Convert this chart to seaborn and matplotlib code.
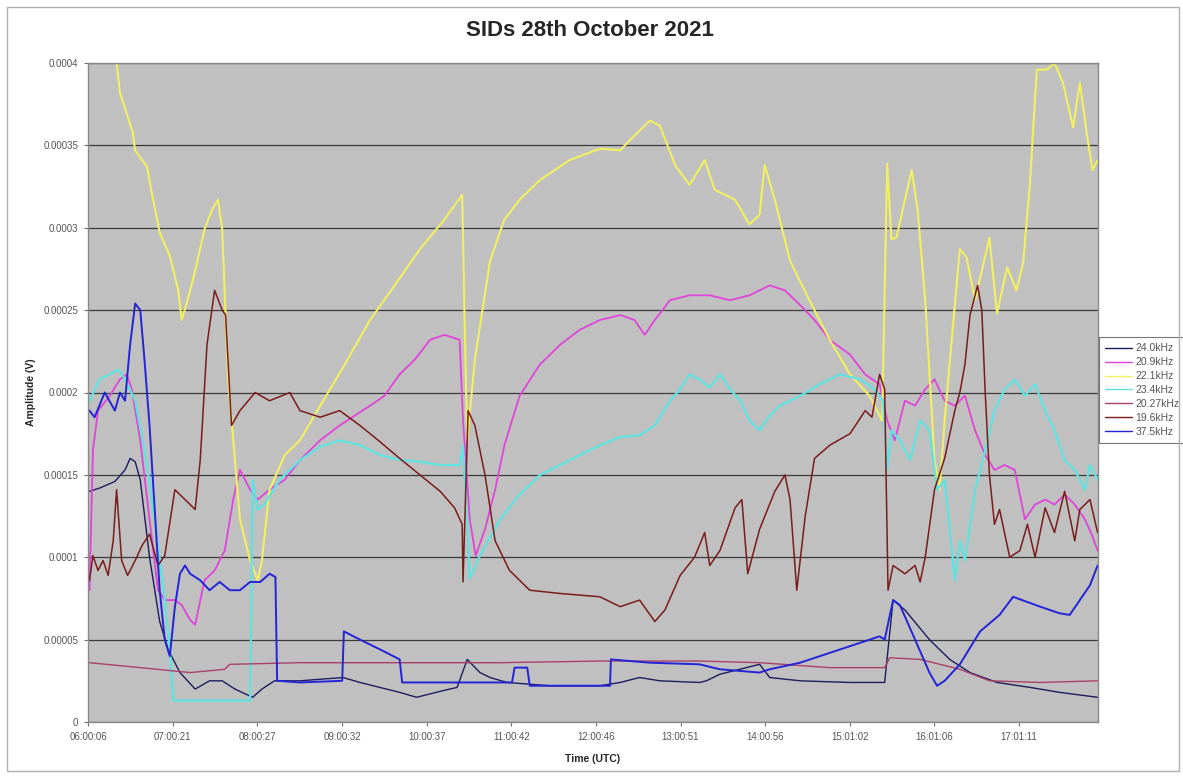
import matplotlib
import numpy as np
import pandas as pd
import seaborn as sns

matplotlib.use("Agg")
import matplotlib.pyplot as plt
from matplotlib.patches import Rectangle


# time in decimal hours (UTC), amplitude in volts (values written as 1e-5 V)
series_names = ["24.0kHz", "20.9kHz", "22.1kHz", "23.4kHz", "20.27kHz", "19.6kHz", "37.5kHz"]

t_240 = [6.02, 6.14, 6.32, 6.44, 6.50, 6.56, 6.62, 6.73, 6.85, 6.95, 7.09, 7.27, 7.44, 7.59,
         7.74, 7.95, 8.06, 8.21, 8.51, 9.02, 9.22, 9.69, 9.89, 10.20, 10.37, 10.49, 10.64,
         10.76, 10.96, 11.47, 12.06, 12.30, 12.53, 12.77, 13.24, 13.32, 13.48, 13.95, 14.07,
         14.43, 15.02, 15.43, 15.53, 15.67, 15.96, 16.20, 16.44, 16.76, 17.15, 17.50, 17.95]
v_240 = [14.0, 14.2, 14.6, 15.3, 16.0, 15.8, 14.7, 10.0, 6.1, 4.4, 3.0, 2.0, 2.5, 2.5,
         2.0, 1.5, 2.0, 2.5, 2.5, 2.7, 2.4, 1.8, 1.5, 1.9, 2.1, 3.8, 3.0,
         2.7, 2.4, 2.2, 2.2, 2.4, 2.7, 2.5, 2.4, 2.5, 2.9, 3.5, 2.7,
         2.5, 2.4, 2.4, 7.4, 6.8, 5.0, 3.8, 3.0, 2.4, 2.1, 1.8, 1.5]

t_209 = [6.02, 6.06, 6.12, 6.26, 6.38, 6.46, 6.52, 6.62, 6.73, 6.83, 6.91, 7.03, 7.11, 7.21,
         7.27, 7.38, 7.50, 7.62, 7.72, 7.80, 7.92, 8.01, 8.15, 8.33, 8.51, 8.75, 8.98, 9.16,
         9.34, 9.51, 9.69, 9.87, 10.05, 10.22, 10.40, 10.44, 10.52, 10.59, 10.70, 10.82,
         10.93, 11.11, 11.35, 11.59, 11.82, 12.06, 12.30, 12.47, 12.59, 12.71, 12.89, 13.12,
         13.36, 13.60, 13.83, 14.07, 14.25, 14.43, 14.60, 14.78, 15.02, 15.20, 15.37, 15.46,
         15.55, 15.67, 15.79, 15.91, 16.02, 16.14, 16.26, 16.38, 16.50, 16.62, 16.73, 16.85,
         16.97, 17.09, 17.21, 17.33, 17.44, 17.56, 17.68, 17.80, 17.88, 17.95]
v_209 = [8.0, 16.5, 18.9, 19.8, 20.8, 21.1, 20.2, 17.1, 12.3, 8.0, 7.4, 7.4, 7.1, 6.2,
         5.9, 8.6, 9.2, 10.4, 13.5, 15.3, 14.1, 13.5, 14.1, 14.7, 15.9, 17.1, 18.0, 18.6,
         19.2, 19.8, 21.1, 22.0, 23.2, 23.5, 23.2, 18.3, 12.3, 10.1, 11.7, 14.1,
         16.8, 19.8, 21.7, 22.9, 23.8, 24.4, 24.7, 24.4, 23.5, 24.4, 25.6, 25.9,
         25.9, 25.6, 25.9, 26.5, 26.2, 25.3, 24.4, 23.2, 22.3, 21.1, 20.5, 18.3,
         17.1, 19.5, 19.2, 20.2, 20.8, 19.5, 19.2, 19.8, 17.7, 16.2, 15.3, 15.6,
         15.3, 12.3, 13.2, 13.5, 13.2, 13.8, 13.2, 12.3, 11.4, 10.4]

t_221 = [6.02, 6.20, 6.34, 6.38, 6.53, 6.56, 6.70, 6.75, 6.85, 6.97, 7.07, 7.11, 7.18, 7.27,
         7.38, 7.47, 7.54, 7.59, 7.66, 7.80, 7.92, 8.01, 8.06, 8.15, 8.33, 8.51, 8.75, 9.04,
         9.34, 9.63, 9.93, 10.22, 10.43, 10.46, 10.49, 10.58, 10.76, 10.93, 11.11, 11.35,
         11.70, 12.06, 12.30, 12.41, 12.65, 12.77, 12.95, 13.12, 13.30, 13.42, 13.66, 13.83,
         13.95, 14.01, 14.13, 14.31, 14.54, 14.78, 15.02, 15.25, 15.40, 15.46, 15.51, 15.57,
         15.67, 15.75, 15.82, 15.91, 16.02, 16.08, 16.14, 16.26, 16.32, 16.40, 16.50, 16.67,
         16.76, 16.88, 16.99, 17.07, 17.15, 17.23, 17.35, 17.44, 17.54, 17.66, 17.74, 17.82,
         17.89, 17.95]
v_221 = [41.0, 40.5, 40.0, 38.2, 35.8, 34.7, 33.7, 32.3, 29.7, 28.3, 26.2, 24.4, 25.6, 27.4,
         29.9, 31.1, 31.7, 29.9, 20.8, 12.3, 9.8, 8.6, 9.8, 14.1, 16.2, 17.1, 19.2, 21.7,
         24.4, 26.5, 28.7, 30.5, 32.0, 24.0, 17.1, 22.0, 28.0, 30.5, 31.7, 32.9,
         34.1, 34.8, 34.7, 35.3, 36.5, 36.2, 33.8, 32.6, 34.1, 32.3, 31.7, 30.2,
         30.8, 33.8, 31.7, 28.0, 25.6, 23.2, 21.1, 19.8, 18.3, 33.9, 29.3, 29.4,
         31.7, 33.5, 31.1, 25.6, 15.9, 14.1, 18.3, 25.3, 28.7, 28.2, 25.6, 29.4,
         24.8, 27.6, 26.2, 27.9, 32.7, 39.6, 39.6, 40.0, 38.8, 36.1, 38.8, 35.8,
         33.5, 34.1]

t_234 = [6.02, 6.14, 6.26, 6.36, 6.44, 6.56, 6.67, 6.79, 6.91, 6.97, 7.01, 7.09, 7.92, 7.95,
         8.01, 8.09, 8.27, 8.51, 8.75, 8.98, 9.22, 9.46, 9.69, 9.93, 10.17, 10.40, 10.44,
         10.52, 10.64, 10.88, 11.11, 11.35, 11.59, 11.82, 12.06, 12.30, 12.53, 12.71, 12.89,
         13.01, 13.12, 13.24, 13.36, 13.48, 13.60, 13.72, 13.83, 13.95, 14.07, 14.19, 14.43,
         14.66, 14.90, 15.14, 15.31, 15.41, 15.46, 15.51, 15.61, 15.73, 15.85, 15.96, 16.05,
         16.14, 16.20, 16.26, 16.32, 16.38, 16.50, 16.62, 16.73, 16.85, 16.97, 17.09, 17.21,
         17.33, 17.44, 17.56, 17.68, 17.80, 17.86, 17.95]
v_234 = [19.5, 20.8, 21.1, 21.4, 20.8, 19.5, 16.5, 12.3, 7.4, 4.4, 1.3, 1.3, 1.3, 14.7,
         12.9, 13.2, 14.7, 15.9, 16.7, 17.1, 16.8, 16.2, 15.9, 15.8, 15.6, 15.6, 16.8,
         8.7, 10.1, 12.3, 13.8, 15.0, 15.6, 16.2, 16.8, 17.3, 17.4, 18.0, 19.5,
         20.2, 21.1, 20.8, 20.3, 21.1, 20.2, 19.5, 18.3, 17.7, 18.6, 19.2, 19.8,
         20.5, 21.1, 20.8, 20.2, 19.5, 15.3, 17.7, 17.1, 15.9, 18.3, 17.7, 14.1,
         14.7, 11.7, 8.6, 11.0, 9.8, 14.1, 16.5, 18.9, 20.2, 20.8, 19.8, 20.5,
         18.9, 17.7, 15.9, 15.3, 14.1, 15.6, 14.7]

t_2027 = [6.02, 6.62, 7.21, 7.62, 7.68, 8.51, 9.69, 10.88, 12.06, 13.24, 13.95, 14.78,
          15.43, 15.49, 15.85, 16.32, 16.67, 17.27, 17.95]
v_2027 = [3.6, 3.3, 3.0, 3.2, 3.5, 3.6, 3.6, 3.6, 3.7, 3.7, 3.6, 3.3,
          3.3, 3.9, 3.8, 3.2, 2.5, 2.4, 2.5]

t_196 = [6.02, 6.06, 6.12, 6.18, 6.24, 6.30, 6.34, 6.40, 6.47, 6.56, 6.64, 6.73, 6.83, 6.91,
         7.03, 7.15, 7.27, 7.33, 7.41, 7.50, 7.59, 7.63, 7.70, 7.80, 7.98, 8.15, 8.39, 8.51,
         8.75, 8.98, 9.22, 9.46, 9.69, 9.93, 10.17, 10.34, 10.43, 10.44, 10.50, 10.58, 10.70,
         10.82, 10.99, 11.23, 11.59, 12.06, 12.30, 12.53, 12.71, 12.83, 13.01, 13.18, 13.30,
         13.36, 13.48, 13.66, 13.74, 13.81, 13.95, 14.13, 14.25, 14.31, 14.39, 14.49, 14.60,
         14.78, 15.02, 15.20, 15.28, 15.37, 15.43, 15.47, 15.53, 15.67, 15.79, 15.85, 15.91,
         16.02, 16.14, 16.26, 16.32, 16.38, 16.44, 16.53, 16.58, 16.62, 16.67, 16.73, 16.79,
         16.91, 17.03, 17.12, 17.21, 17.33, 17.44, 17.56, 17.68, 17.74, 17.86, 17.95]
v_196 = [8.6, 10.1, 9.2, 9.8, 8.9, 11.0, 14.1, 9.8, 8.9, 9.8, 10.7, 11.4, 9.5, 10.1,
         14.1, 13.5, 12.9, 15.9, 22.9, 26.2, 25.0, 24.7, 18.0, 18.9, 20.0, 19.5, 20.0, 18.9,
         18.5, 18.9, 18.0, 17.0, 16.0, 15.0, 14.0, 13.0, 12.0, 8.5, 18.9, 18.0, 15.0,
         11.0, 9.2, 8.0, 7.8, 7.6, 7.0, 7.4, 6.1, 6.8, 8.9, 10.0, 11.5,
         9.5, 10.4, 13.0, 13.5, 9.0, 11.7, 14.0, 15.0, 13.5, 8.0, 12.5, 16.0,
         16.8, 17.5, 18.9, 18.5, 21.1, 20.2, 8.0, 9.5, 9.0, 9.5, 8.5, 10.0,
         14.1, 16.0, 18.9, 20.0, 21.7, 24.7, 26.5, 25.0, 20.0, 15.0, 12.0, 12.9,
         10.0, 10.4, 12.0, 10.0, 13.0, 11.5, 14.0, 11.0, 12.9, 13.5, 11.5]

t_375 = [6.02, 6.08, 6.20, 6.32, 6.38, 6.44, 6.50, 6.56, 6.62, 6.67, 6.73, 6.79, 6.85, 6.91,
         6.97, 7.03, 7.09, 7.15, 7.21, 7.33, 7.44, 7.56, 7.68, 7.80, 7.92, 8.04, 8.15, 8.22,
         8.24, 8.51, 9.01, 9.03, 9.22, 9.46, 9.69, 9.72, 10.28, 11.02, 11.05, 11.20, 11.23,
         12.18, 12.19, 12.65, 13.24, 13.48, 13.95, 14.07, 14.43, 14.90, 15.37, 15.43, 15.53,
         15.61, 15.79, 15.96, 16.05, 16.14, 16.32, 16.56, 16.79, 16.95, 17.27, 17.50, 17.62,
         17.74, 17.86, 17.95]
v_375 = [18.9, 18.5, 20.0, 18.9, 20.0, 19.5, 22.9, 25.4, 25.0, 22.0, 18.0, 13.0, 8.0, 5.0,
         4.0, 7.0, 9.0, 9.5, 9.0, 8.6, 8.0, 8.5, 8.0, 8.0, 8.5, 8.5, 9.0, 8.8,
         2.5, 2.4, 2.5, 5.5, 5.0, 4.4, 3.8, 2.4, 2.4, 2.4, 3.3, 3.3, 2.2,
         2.2, 3.8, 3.6, 3.5, 3.2, 3.0, 3.2, 3.6, 4.4, 5.2, 5.0, 7.4,
         7.1, 5.0, 3.0, 2.2, 2.5, 3.5, 5.5, 6.5, 7.6, 7.0, 6.6, 6.5,
         7.4, 8.3, 9.5]

series_times = [t_240, t_209, t_221, t_234, t_2027, t_196, t_375]
series_values = [v_240, v_209, v_221, v_234, v_2027, v_196, v_375]

x_tick_labels = ["06:00:06", "07:00:21", "08:00:27", "09:00:32", "10:00:37", "11:00:42",
                 "12:00:46", "13:00:51", "14:00:56", "15:01:02", "16:01:06", "17:01:11"]
y_ticks = [0, 0.00005, 0.0001, 0.00015, 0.0002, 0.00025, 0.0003, 0.00035, 0.0004]
y_tick_labels = ["0", "0.00005", "0.0001", "0.00015", "0.0002", "0.00025", "0.0003",
                 "0.00035", "0.0004"]

colors = {
    "24.0kHz": "#1c1c5e",
    "20.9kHz": "#e044d8",
    "22.1kHz": "#f2f060",
    "23.4kHz": "#5fe3e0",
    "20.27kHz": "#a8406a",
    "19.6kHz": "#7a1c1c",
    "37.5kHz": "#2323d8",
}
widths = {
    "24.0kHz": 1.0, "20.9kHz": 1.3, "22.1kHz": 1.5, "23.4kHz": 1.6,
    "20.27kHz": 1.0, "19.6kHz": 1.1, "37.5kHz": 1.4,
}


def to_hours(label: str) -> float:
    h, m, s = (int(p) for p in label.split(":"))
    return h + m / 60 + s / 3600


def main() -> None:
    sns.set_style("white")
    plt.rcParams["font.family"] = ["Liberation Sans", "DejaVu Sans"]

    frames = []
    for name, t, v in zip(series_names, series_times, series_values):
        frames.append(pd.DataFrame({"time": t, "amp": np.array(v) * 1e-5, "station": name}))
    df = pd.concat(frames, ignore_index=True)

    fig = plt.figure(figsize=(11.83, 7.78), dpi=100)
    ax = fig.add_axes([88 / 1183, 56 / 778, 1010 / 1183, 659 / 778])
    ax.set_facecolor("#c0c0c0")

    for name in series_names:
        sub = df[df["station"] == name]
        sns.lineplot(data=sub, x="time", y="amp", ax=ax, color=colors[name],
                     linewidth=widths[name], label=name, estimator=None, sort=False)

    ax.set_xlim(to_hours(x_tick_labels[0]), 17.955)
    ax.set_ylim(0, 0.0004)
    ax.set_xticks([to_hours(s) for s in x_tick_labels])
    ax.set_xticklabels(x_tick_labels, fontsize=7, color="#555555")
    ax.set_yticks(y_ticks)
    ax.set_yticklabels(y_tick_labels, fontsize=7, color="#555555")
    ax.tick_params(axis="both", direction="out", length=3, width=0.8, color="#707070", pad=4,
                   bottom=True, left=True)
    ax.yaxis.grid(True, color="#3a3a3a", linewidth=0.9)
    ax.xaxis.grid(False)
    ax.set_axisbelow(True)
    for spine in ax.spines.values():
        spine.set_color("#8a8a8a")
        spine.set_linewidth(1.0)

    ax.set_xlabel("Time (UTC)", fontsize=7.5, fontweight="bold", labelpad=9)
    ax.set_ylabel("Amplitude (V)", fontsize=7.5, fontweight="bold", labelpad=5)
    fig.text(590 / 1183, 1 - 30 / 778, "SIDs 28th October 2021", ha="center", va="center",
             fontsize=16, fontweight="bold")

    leg = ax.legend(loc="upper left", bbox_to_anchor=(1099 / 1183, 1 - 337 / 778),
                    bbox_transform=fig.transFigure, fontsize=7.5, frameon=True, fancybox=False,
                    handlelength=2.6, handletextpad=0.3, borderpad=0.6, labelspacing=0.38,
                    borderaxespad=0)
    leg.get_frame().set_edgecolor("#555555")
    leg.get_frame().set_linewidth(0.8)
    for line in leg.get_lines():
        line.set_linewidth(1.0)
    for text in leg.get_texts():
        text.set_color("#555555")

    fig.patches.append(Rectangle((7 / 1183, 7 / 778), 1172 / 1183, 764 / 778,
                                 transform=fig.transFigure, fill=False,
                                 edgecolor="#b0b0b0", linewidth=1.0))

    fig.savefig("out.png", dpi=100)
    plt.close(fig)


if __name__ == "__main__":
    main()
